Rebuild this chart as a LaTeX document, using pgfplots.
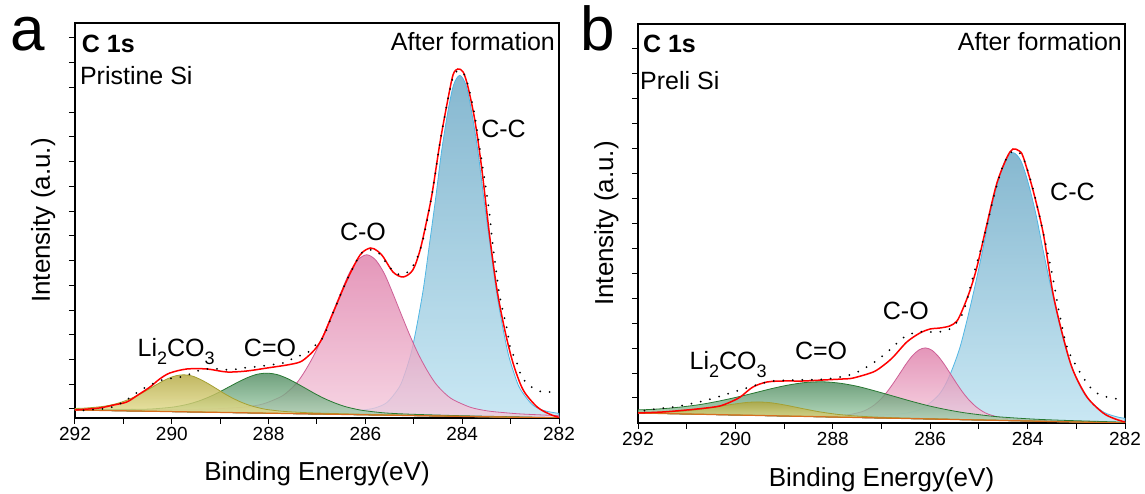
\documentclass[border=0pt]{standalone}
\usepackage{fontspec}
\setmainfont{Liberation Sans}
\usepackage{pgfplots}
\pgfplotsset{compat=1.18}

\definecolor{ccTop}{RGB}{104,166,196}
\definecolor{ccBot}{RGB}{188,226,241}
\definecolor{ccLine}{RGB}{80,182,228}
\definecolor{coTop}{RGB}{222,124,168}
\definecolor{coBot}{RGB}{244,202,220}
\definecolor{coLine}{RGB}{205,95,150}
\definecolor{cdoTop}{RGB}{76,136,92}
\definecolor{cdoBot}{RGB}{172,216,182}
\definecolor{cdoLine}{RGB}{40,120,50}
\definecolor{liTop}{RGB}{178,166,60}
\definecolor{liBot}{RGB}{234,228,152}
\definecolor{liLine}{RGB}{165,160,50}
\definecolor{bgLine}{RGB}{215,110,30}

\newcommand{\sub}[1]{\raisebox{-0.3em}{\fontsize{18}{18}\selectfont #1}}
\tikzset{txt/.style={font=\fontsize{25}{25}\selectfont, inner sep=0pt}}
\pgfplotsset{
  xps/.style={
    scale only axis, x dir=reverse, xmin=282, xmax=292, ymin=0,
    xtick={282,284,...,292}, minor xtick={283,285,...,291},
    tick align=outside, tick pos=left,
    major tick length=6pt, minor tick length=6pt,
    tick style={black, line width=1pt},
    axis line style={line width=1.3pt},
    yticklabels={},
    xticklabel style={font=\fontsize{19}{19}\selectfont},
    /pgf/number format/assume math mode=true,
    xlabel={Binding Energy(eV)}, ylabel={Intensity (a.u.)},
    label style={font=\fontsize{26}{26}\selectfont},
  },
  comp/.style={smooth, line width=0.8pt, fill opacity=0.8},
  env/.style={smooth, red, line width=1.5pt},
  raw/.style={smooth, black, line width=2pt, dash pattern=on 0pt off 9.5pt, line cap=round},
}

\begin{document}
\begin{tikzpicture}
\useasboundingbox (0,0) rectangle (1145pt,494pt);

\node[anchor=base west, inner sep=0pt, font=\fontsize{62}{62}\selectfont] at (10pt,443pt) {a};
\node[anchor=base west, inner sep=0pt, font=\fontsize{62}{62}\selectfont] at (580pt,443pt) {b};

% ---------------- panel a ----------------
\begin{axis}[xps, at={(75pt,76pt)}, anchor=south west, width=484pt, height=395pt, ymax=395,
  ytick={9,33.7,58.5,83.2,107.9,132.7,157.4,182.1,206.8,231.6,256.3,281.0,305.8,330.5,355.2,380.0},
  xlabel style={at={(axis description cs:0.5,-0.157)}, anchor=base},
  ylabel style={at={(axis description cs:-0.052,0.5)}, anchor=base}]
% C-C
\addplot[comp, draw=ccLine, top color=ccTop, bottom color=ccBot] coordinates {
(282,4.6) (282.3,7.3) (282.55,13.3) (282.8,28.9) (282.92,43.4) (283.05,64.3) (283.17,92.7) (283.3,128.8) (283.42,171.6) (283.55,218.4) (283.67,264.8) (283.8,304.9) (283.92,332.6) (284.05,342.6) (284.18,332.8) (284.3,305.3) (284.43,265.4) (284.55,219.2) (284.68,172.6) (284.8,130.0) (284.93,94.1) (285.05,65.9) (285.18,45.2) (285.3,30.9) (285.55,15.7) (285.8,10.1) (286.05,8.0) (286.3,7.0) (286.55,6.6) (287.18,6.1) (287.8,6.0) (289.05,6.4) (290.3,7.2) (292,8.35)
} -- (axis cs:292,8) -- (axis cs:282,0) -- cycle;
% C-O
\addplot[comp, draw=coLine, top color=coTop, bottom color=coBot] coordinates {
(282,2.3) (282.77,4.0) (283.12,5.3) (283.48,7.1) (283.83,10.7) (284.19,18.4) (284.37,25.1) (284.55,34.5) (284.72,47.2) (284.9,63.3) (285.08,82.5) (285.26,103.7) (285.44,125.4) (285.61,144.5) (285.79,158.1) (285.97,163.2) (286.15,158.4) (286.33,145.1) (286.5,126.2) (286.68,104.8) (286.86,83.9) (287.04,65.0) (287.22,49.2) (287.39,36.8) (287.57,27.7) (287.75,21.2) (288.11,14.1) (288.46,11.1) (288.82,9.9) (289.17,9.1) (289.53,8.8) (290.42,8.5) (291.31,8.8) (292,9.05)
} -- (axis cs:292,8) -- (axis cs:282,0) -- cycle;
% C=O
\addplot[comp, draw=cdoLine, top color=cdoTop, bottom color=cdoBot] coordinates {
(282,0.32) (283.03,1.3) (284.03,2.3) (284.83,3.4) (285.23,4.1) (285.63,5.2) (286.03,7.4) (286.23,9.2) (286.43,11.6) (286.63,15.0) (286.83,19.1) (287.03,24.0) (287.23,29.5) (287.43,34.9) (287.63,39.9) (287.83,43.5) (288.03,44.8) (288.23,43.8) (288.43,40.5) (288.63,35.9) (288.83,30.8) (289.03,25.6) (289.23,21.0) (289.43,17.2) (289.63,14.2) (289.83,12.1) (290.03,10.6) (290.43,9.0) (290.83,8.6) (291.23,8.5) (291.63,8.6) (292,8.7)
} -- (axis cs:292,8) -- (axis cs:282,0) -- cycle;
% Li2CO3
\addplot[comp, draw=liLine, top color=liTop, bottom color=liBot] coordinates {
(282,0.1) (282.95,0.9) (284.65,2.4) (285.5,3.2) (286.35,4.1) (287.03,5.0) (287.37,5.7) (287.71,6.7) (288.05,8.6) (288.22,10.4) (288.39,12.6) (288.56,15.7) (288.73,19.5) (288.9,24.0) (289.07,29.1) (289.24,34.1) (289.41,38.6) (289.58,42.0) (289.75,43.2) (289.92,42.2) (290.09,39.2) (290.26,34.9) (290.43,30.1) (290.6,25.4) (290.77,21.1) (290.94,17.6) (291.11,14.8) (291.28,12.8) (291.45,11.4) (291.79,9.9) (292,9.55)
} -- (axis cs:292,8) -- (axis cs:282,0) -- cycle;
% background
\addplot[bgLine, line width=1.2pt] coordinates {(282,0) (292,8)};
% envelope
\addplot[env] coordinates {
(282,0.5) (282.2,4) (282.45,11) (282.74,28) (282.95,55) (283.12,88) (283.28,128) (283.43,181) (283.6,251) (283.74,298) (283.88,331) (283.98,346) (284.09,349) (284.19,343) (284.31,315) (284.46,275) (284.62,225) (284.73,198) (284.87,168) (285.02,148) (285.22,141) (285.43,146) (285.63,161) (285.75,167) (285.9,170) (286.11,163) (286.38,138) (286.67,105) (286.88,81) (287.02,70) (287.18,62) (287.35,56) (287.62,53) (288.03,50) (288.45,47) (288.86,46) (289.27,49) (289.69,49) (290.04,45) (290.25,39) (290.45,31) (290.7,23) (290.93,16) (291.2,13) (291.5,10) (292,8)
};
% raw data
\addplot[raw] coordinates {
(282,27) (282.2,26) (282.35,26) (282.54,30) (282.66,35) (282.77,41) (282.87,55) (283.01,71) (283.07,88) (283.22,121) (283.32,155) (283.38,178) (283.45,210) (283.6,258) (283.74,302) (283.88,333) (283.98,345) (284.1,347) (284.19,341) (284.31,315) (284.46,275) (284.62,225) (284.8,180) (284.95,158) (285.1,147) (285.25,143) (285.4,146) (285.55,154) (285.75,166) (285.95,168) (286.11,163) (286.38,138) (286.67,105) (286.88,80) (287.08,71) (287.2,65) (287.5,60) (287.6,56) (287.97,53) (288.3,51) (288.53,50) (288.8,48) (289.0,49) (289.27,49) (289.55,46) (289.7,42) (289.98,40) (290.2,38) (290.45,33) (290.7,26) (291.0,16) (291.3,10) (291.7,8) (292,7)
};
\node[txt, anchor=west] at (axis cs:291.86,374) {\bfseries C 1s};
\node[txt, anchor=west] at (axis cs:291.9,342) {Pristine Si};
\node[txt, anchor=east] at (axis cs:282.08,376) {After formation};
\node[txt, anchor=west] at (axis cs:283.61,289) {C-C};
\node[txt, anchor=base] at (axis cs:286.05,177) {C-O};
\node[txt, anchor=base] at (axis cs:287.97,61) {C=O};
\node[txt, anchor=base] at (axis cs:289.91,61) {Li\sub{2}CO\sub{3}};
\end{axis}

% ---------------- panel b ----------------
\begin{axis}[xps, at={(638pt,71pt)}, anchor=south west, width=487pt, height=399pt, ymax=399,
  ytick={25,49.9,74.9,99.8,124.7,149.7,174.6,199.5,224.4,249.4,274.3,299.2,324.2,349.1,374.0},
  xlabel style={at={(axis description cs:0.5,-0.16)}, anchor=base},
  ylabel style={at={(axis description cs:-0.051,0.5)}, anchor=base}]
% C-C
\addplot[comp, draw=ccLine, top color=ccTop, bottom color=ccBot] coordinates {
(282,4.8) (282.12,5.6) (282.43,10.6) (282.74,23.0) (282.9,34.5) (283.05,51.0) (283.21,73.3) (283.36,101.8) (283.52,135.5) (283.68,172.4) (283.83,208.9) (283.99,240.5) (284.14,262.3) (284.3,270.3) (284.46,262.7) (284.61,241.1) (284.77,209.9) (284.92,173.6) (285.08,137.1) (285.24,103.6) (285.39,75.5) (285.55,53.5) (285.7,37.3) (285.86,26.2) (286.17,14.4) (286.48,10.0) (286.8,8.6) (287.11,8.0) (287.42,7.8) (288.2,7.8) (288.98,8.1) (290.54,9.2) (292,10.4)
} -- (axis cs:292,10) -- (axis cs:282,0) -- cycle;
% C-O
\addplot[comp, draw=coLine, top color=coTop, bottom color=coBot] coordinates {
(282,0.27) (282.85,1.3) (283.5,2.1) (284.02,3.0) (284.28,3.8) (284.54,5.2) (284.8,8.7) (284.93,11.8) (285.06,16.3) (285.19,22.3) (285.32,29.9) (285.45,39.0) (285.58,48.8) (285.71,58.6) (285.84,67.0) (285.97,72.9) (286.1,75.1) (286.23,73.1) (286.36,67.6) (286.49,59.4) (286.62,49.8) (286.75,40.3) (286.88,31.5) (287.01,24.1) (287.14,18.3) (287.27,14.2) (287.4,11.3) (287.66,8.4) (287.92,7.4) (288.18,7.2) (288.7,7.3) (289.35,7.8) (290.0,8.3) (291.3,9.5) (292,10.1)
} -- (axis cs:292,10) -- (axis cs:282,0) -- cycle;
% C=O
\addplot[comp, draw=cdoLine, top color=cdoTop, bottom color=cdoBot] coordinates {
(282,0.84) (283.16,2.5) (283.88,3.9) (284.6,6.2) (284.96,8.1) (285.32,10.4) (285.68,13.5) (286.04,17.3) (286.4,21.9) (286.76,26.9) (287.12,31.9) (287.48,36.5) (287.84,39.7) (288.2,41.2) (288.56,40.5) (288.92,37.9) (289.28,34.1) (289.64,29.7) (290.0,25.5) (290.36,21.7) (290.72,18.5) (291.08,16.2) (291.44,14.5) (291.8,13.4) (292,13.2)
} -- (axis cs:292,10) -- (axis cs:282,0) -- cycle;
% Li2CO3
\addplot[comp, draw=liLine, top color=liTop, bottom color=liBot] coordinates {
(282,0.07) (283.5,1.6) (284.5,2.7) (285.5,3.7) (286.3,4.7) (286.7,5.2) (287.1,5.9) (287.5,6.9) (287.7,7.7) (287.9,8.6) (288.1,9.9) (288.3,11.4) (288.5,13.25) (288.7,15.2) (288.9,17.2) (289.1,19.0) (289.3,20.4) (289.5,21.0) (289.7,20.8) (289.9,19.8) (290.1,18.4) (290.3,16.8) (290.5,15.25) (290.7,13.8) (290.9,12.7) (291.1,11.8) (291.3,11.3) (291.5,10.9) (291.9,10.7) (292,10.7)
} -- (axis cs:292,10) -- (axis cs:282,0) -- cycle;
\addplot[bgLine, line width=1.2pt] coordinates {(282,0) (292,10)};
\addplot[env] coordinates {
(282,1) (282.2,4) (282.45,10) (282.78,26) (283.07,53) (283.27,86) (283.48,130) (283.68,190) (283.89,233) (284.09,266) (284.17,272) (284.3,274) (284.42,266) (284.63,240) (284.83,200) (285.04,156) (285.18,133) (285.33,114) (285.45,102) (285.6,97) (285.8,95) (286.0,94) (286.21,90) (286.48,81) (286.76,66) (286.95,58) (287.17,51) (287.58,45) (287.8,44) (288.2,43) (288.61,42) (289.0,42) (289.35,41) (289.64,36) (289.9,26) (290.1,21) (290.32,17) (290.6,15) (291.0,13) (291.5,11) (292,10)
};
\addplot[raw] coordinates {
(282,22) (282.25,25) (282.51,28) (282.72,36) (282.99,56) (283.19,76) (283.35,110) (283.5,150) (283.7,195) (283.9,236) (284.1,266) (284.3,272) (284.5,258) (284.7,225) (284.9,185) (285.1,150) (285.33,110) (285.6,94) (285.86,91) (286.27,91) (286.56,85) (286.83,73) (287.17,60) (287.59,49) (288.12,44) (288.67,43) (289.23,42) (289.64,37) (290.1,30) (290.58,23) (290.85,20) (291.14,17) (291.45,15) (291.8,13) (292,11)
};
\node[txt, anchor=west] at (axis cs:291.9,379) {\bfseries C 1s};
\node[txt, anchor=west] at (axis cs:291.96,342) {Preli Si};
\node[txt, anchor=east] at (axis cs:282.06,381) {After formation};
\node[txt, anchor=west] at (axis cs:283.54,231) {C-C};
\node[txt, anchor=base] at (axis cs:286.5,103) {C-O};
\node[txt, anchor=base] at (axis cs:288.24,63) {C=O};
\node[txt, anchor=base] at (axis cs:290.15,53) {Li\sub{2}CO\sub{3}};
\end{axis}
\end{tikzpicture}
\end{document}
